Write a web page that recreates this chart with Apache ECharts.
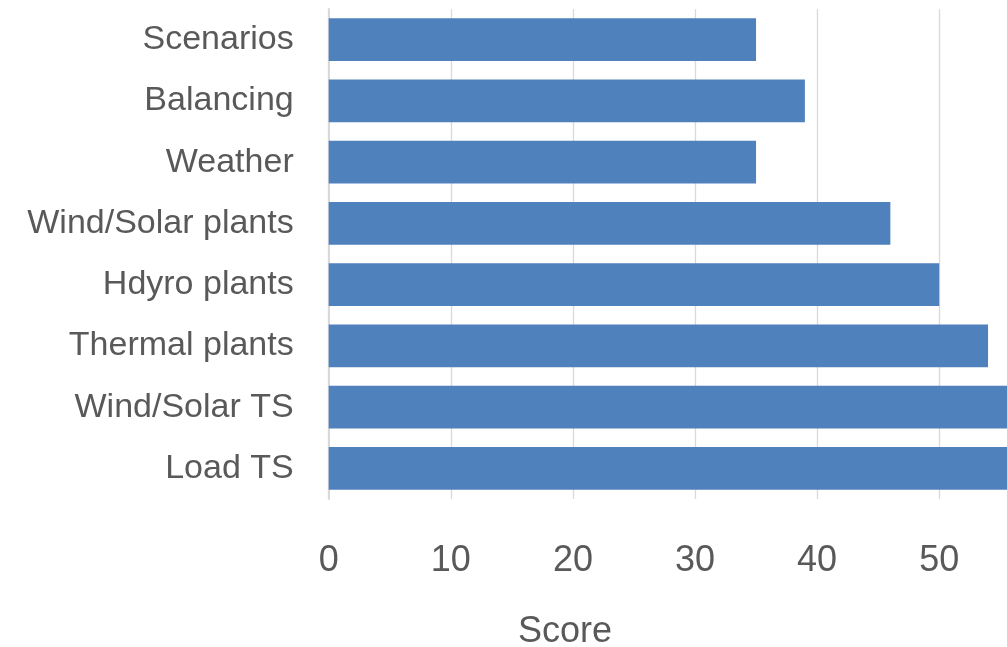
<!DOCTYPE html>
<html>
<head>
<meta charset="utf-8">
<script src="https://cdn.jsdelivr.net/npm/echarts@6/dist/echarts.min.js"></script>
<style>
html,body{margin:0;padding:0;background:#fff;}
#chart{width:1007px;height:647px;}
</style>
</head>
<body>
<div id="chart"></div>
<script>
const categories = ["Scenarios","Balancing","Weather","Wind/Solar plants","Hdyro plants","Thermal plants","Wind/Solar TS","Load TS"];
const scores = [35, 39, 35, 46, 50, 54, 57, 57];
const xTicks = {min: 0, max: 60, interval: 10};
const xName = "Score";

const chart = echarts.init(document.getElementById('chart'));
const font = "'Liberation Sans', Arial, sans-serif";
chart.setOption({
  animation: false,
  grid: {left: 328.7, top: 9, height: 490, right: -54.3, containLabel: false, outerBoundsMode: 'none'},
  xAxis: {
    type: 'value',
    min: xTicks.min, max: xTicks.max, interval: xTicks.interval,
    name: xName,
    nameLocation: 'middle',
    nameGap: 115,
    nameTextStyle: {fontFamily: font, fontSize: 36, color: '#595959', padding: [0, 260, 0, 0]},
    axisLine: {show: false},
    axisTick: {show: false},
    axisLabel: {fontFamily: font, fontSize: 36, color: '#595959', margin: 44},
    splitLine: {show: true, lineStyle: {color: '#d9d9d9', width: 1.3}}
  },
  yAxis: {
    type: 'category',
    data: categories,
    inverse: true,
    axisLine: {show: true, lineStyle: {color: '#d9d9d9', width: 2}},
    axisTick: {show: false},
    axisLabel: {fontFamily: font, fontSize: 34, color: '#595959', margin: 35}
  },
  series: [{
    type: 'bar',
    data: scores,
    barCategoryGap: '30%',
    clip: true,
    itemStyle: {color: '#4f81bd'}
  }]
});
</script>
</body>
</html>
